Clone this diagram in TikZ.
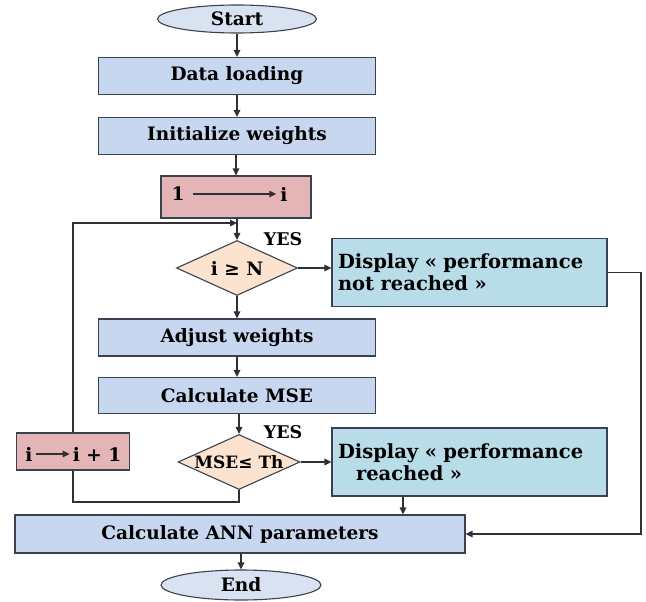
\documentclass[tikz,border=0pt]{standalone}
\usepackage{fontspec}
\setmainfont{DejaVu Serif}
\usetikzlibrary{shapes.geometric,arrows.meta}
\definecolor{boxblue}{HTML}{C6D7EF}
\definecolor{boxpink}{HTML}{E3B5B7}
\definecolor{boxpeach}{HTML}{FBE3D0}
\definecolor{boxcyan}{HTML}{B8DDE8}
\definecolor{ellfill}{HTML}{D8E2F0}
\definecolor{edge}{HTML}{3A4250}
\definecolor{wire}{HTML}{303030}
\tikzset{
  bigfont/.style={font=\bfseries\fontsize{18.5}{22}\selectfont},
  base/.style={draw=edge, line width=1.1pt, bigfont, inner sep=0pt},
  procbox/.style={base, rectangle, fill=boxblue, minimum width=277pt, minimum height=37pt},
  pinkbox/.style={base, rectangle, fill=boxpink},
  decision/.style={base, diamond, fill=boxpeach, aspect=2.2},
  dispbox/.style={base, rectangle, fill=boxcyan, minimum width=275pt, minimum height=68pt, align=left, text width=263pt, font=\bfseries\fontsize{19.5}{22}\selectfont},
  term/.style={base, ellipse, fill=ellfill},
  lbl/.style={inner sep=0pt, bigfont},
  flow/.style={draw=wire, line width=1.3pt, -{Triangle[length=7pt,width=6.5pt]}},
  plain/.style={draw=wire, line width=1.3pt},
  yes/.style={font=\bfseries\fontsize{17.5}{20}\selectfont, inner sep=0pt}
}
\begin{document}
\begin{tikzpicture}[x=1pt,y=-1pt]
\useasboundingbox (0,0) rectangle (646,602);
\node[term, minimum width=159pt, minimum height=28pt] (start) at (237,19) {Start};
\node[procbox] (data) at (237,76) {Data loading};
\node[procbox] (init) at (237,136) {Initialize weights};
\node[pinkbox, minimum width=150pt, minimum height=42pt] (one) at (236,197) {};
\node[lbl] (onel) at (178,194) {1};
\node[lbl] (onei) at (284,194) {i};
\coordinate (merge) at (237,223);
\node[decision, minimum width=121pt, minimum height=55pt] (dec1) at (237,268) {i ≥ N};
\node[dispbox] (disp1) at (469.5,272.5) {Display « performance\\not reached »};
\node[procbox] (adjust) at (237,337.5) {Adjust weights};
\node[procbox, minimum height=36pt] (mse) at (237,395.5) {Calculate MSE};
\node[decision, minimum width=122pt, minimum height=55pt, font=\bfseries\fontsize{17}{20}\selectfont] (dec2) at (239,462) {MSE≤ Th};
\node[pinkbox, minimum width=113pt, minimum height=37pt] (inc) at (73,451.5) {};
\node[lbl] (incl) at (29,454) {i};
\node[lbl] (incr) at (97,454) {i + 1};
\node[dispbox] (disp2) at (469.5,462) {Display « performance\\\hspace*{18pt}reached »};
\node[procbox, minimum width=450pt, minimum height=38pt] (ann) at (240,534) {Calculate ANN parameters};
\node[term, minimum width=160pt, minimum height=30pt] (end) at (241,585) {End};
\node[yes] (yes1) at (283,239) {YES};
\node[yes] (yes2) at (283,432) {YES};
\coordinate (rx) at (641,0);
\coordinate (d2x) at (403,0);
% main flow
\draw[flow] (start) -- (data);
\draw[flow] (data) -- (init);
\draw[flow] (init.south -| one) -- (one.north);
\draw[flow] (one.south -| dec1) -- (dec1.north);
\draw[flow] (onel.east) ++(8pt,0) -- ([xshift=-4pt]onei.west);
\draw[flow] (dec1.east) -- (dec1.east -| disp1.west);
\draw[flow] (dec1.south) -- (adjust.north);
\draw[flow] (adjust) -- (mse);
\draw[flow] (mse.south -| dec2) -- (dec2.north);
\draw[flow] (dec2.east) -- (dec2.east -| disp2.west);
\draw[flow] (disp2.south -| d2x) -- (ann.north -| d2x);
\draw[flow] (ann.south -| end) -- (end.north);
% loops
\draw[flow] (disp1.east) -- (disp1.east -| rx) |- (ann.east);
\draw[plain] (dec2.south) -- ++(0,12) -| (inc.south);
\draw[flow] (inc.north) |- (merge);
\draw[flow] (incl.east) ++(3pt,0) -- ([xshift=-3pt]incr.west);
\end{tikzpicture}
\end{document}
